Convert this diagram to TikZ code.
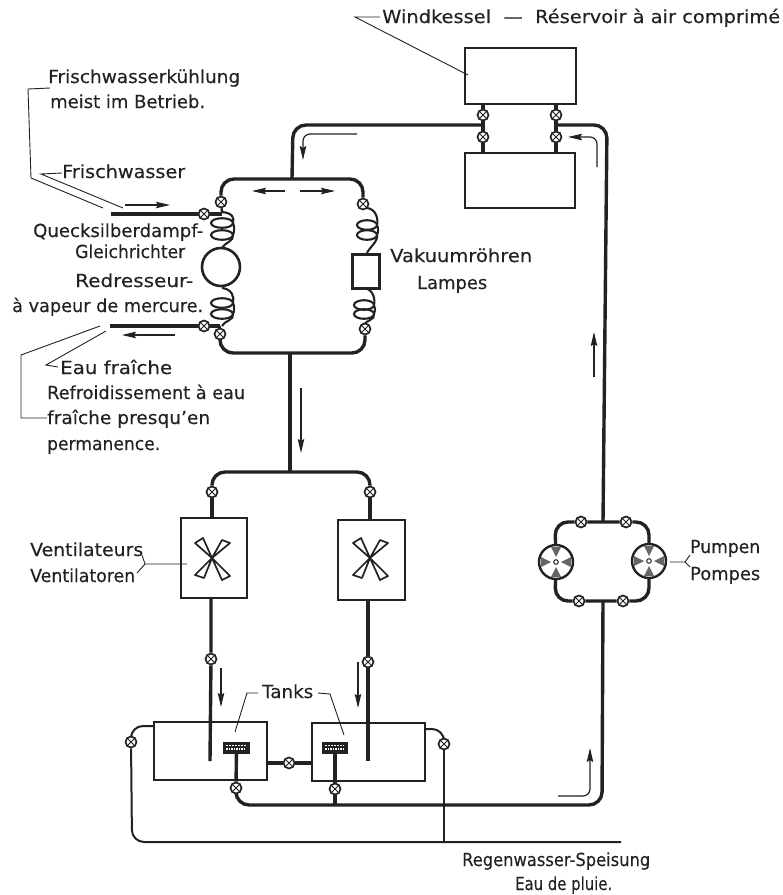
\documentclass[tikz,border=0pt]{standalone}
\usepackage{fontspec}
\usepackage{graphicx}
\setmainfont{DejaVu Sans}[FakeBold=0.3]
\usetikzlibrary{arrows.meta}
\pgfdeclarelayer{back}
\pgfsetlayers{back,main}
\definecolor{ink}{HTML}{222222}
\tikzset{
  pipe/.style={draw=ink,line width=3.4pt,rounded corners=13pt},
  wire/.style={draw=ink,line width=2pt,rounded corners=12pt},
  lead/.style={draw=ink,line width=.9pt},
  flow/.style={draw=ink,line width=1.2pt,rounded corners=7pt,-{Stealth[length=14pt,width=6.5pt,inset=2pt]}},
  lab/.style={anchor=base west,inner sep=0pt,text=ink,font=\fontsize{18}{20}\selectfont},
  box/.style={draw=ink,line width=2.2pt,inner sep=0pt},
  valve/.style={circle,draw=ink,line width=1.7pt,fill=white,minimum size=11pt,inner sep=0pt,
    path picture={\draw[ink,line width=.9pt]
      (path picture bounding box.north west)--(path picture bounding box.south east)
      (path picture bounding box.north east)--(path picture bounding box.south west);}},
  pumpc/.style={circle,draw=ink,line width=2.4pt,fill=white,minimum size=34pt,inner sep=0pt},
  blade/.style={draw=ink,line width=1.7pt,fill=white,line join=round},
  coilline/.style={draw=ink,line width=2.1pt},
}
\newcommand\lbl[5]{\node[lab] (#1) at (#2,#3) {\resizebox{#4pt}{\height}{#5}};}
\newcommand\rectnode[5]{\node[box,minimum width=#4pt-#2pt,minimum height=#5pt-#3pt,anchor=north west] (#1) at (#2,#3) {};}
\newcommand\myvalve[3]{\node[valve] (#1) at (#2,#3) {};}
% coil: x centre, half width, y start, first loop y, second loop y, y end
\newcommand\mycoil[6]{%
  \draw[coilline] (#1,#4) ellipse ({#2} and 4.8);
  \draw[coilline] (#1,#5) ellipse ({#2} and 4.8);
  \draw[coilline] (#1,#3) .. controls (#1+#2-1,#3+1) and (#1+#2+1.5,#4-6) .. (#1+#2,#4)
     .. controls (#1+#2+1.5,#4+3) and (#1+#2+1.5,#5-3) .. (#1+#2,#5)
     .. controls (#1+#2+1.5,#5+6) and (#1+2,#6-5) .. (#1,#6);}
\newcommand\myfan[2]{\begin{scope}[shift={(#1,#2)}]
  \draw[blade] (0,0)--(-17,-15)--(-9,-20)--cycle;
  \draw[blade] (0,0)--(10,-18)--(18,-15)--cycle;
  \draw[blade] (0,0)--(10,22)--(18,18)--cycle;
  \draw[blade] (0,0)--(-17,17)--(-8,20)--cycle;
\end{scope}}
\newcommand\myblades[2]{\begin{scope}[shift={(#1,#2)}]
  \foreach \r in {0,90,180,270}{\fill[black!60,rotate=\r] (5,0)--(15,-5)--(15,5)--cycle;}
  \draw[ink,line width=1pt,fill=white] (0,0) circle (2.3);
\end{scope}}
\newcommand\mygauge[5]{\node[draw=ink,fill=ink,line width=1pt,minimum width=#4pt-#2pt,minimum height=#5pt-#3pt,inner sep=0pt,anchor=north west] (#1) at (#2,#3) {};
  \draw[white,line width=1.2pt,dash pattern=on 2pt off 1pt] (#2+3,#3+3.5)--(#4-3,#3+3.5);
  \draw[white,line width=1.2pt,dash pattern=on 1.5pt off 1pt] (#2+3,#3+7)--(#4-3,#3+7);}
\begin{document}
\begin{tikzpicture}[x=1pt,y=-1pt]
\useasboundingbox (0,0) rectangle (783,895);
% reservoirs
\rectnode{resA}{464}{47}{575}{103}
\rectnode{resB}{464}{152}{574}{207}
\myvalve{vA1}{483}{115}\myvalve{vA2}{483}{137}
\myvalve{vB1}{556}{115}\myvalve{vB2}{556}{137}
% pump group
\node[pumpc] (pL) at (556,562) {};
\node[pumpc] (pR) at (649,561) {};
\myvalve{vP1}{581}{522}\myvalve{vP2}{626}{522}
\myvalve{vP3}{579}{601}\myvalve{vP4}{623}{601}
\myblades{556}{562}\myblades{649}{561}
% cooling loop
\myvalve{vL1}{221}{202}\myvalve{vR1}{363}{204}
\myvalve{vL2}{220}{334}\myvalve{vR2}{365}{329}
\myvalve{vIn}{204}{214}\myvalve{vOut}{204}{326}
\node[circle,draw=ink,line width=2.6pt,fill=white,minimum size=38pt,inner sep=0pt] (merc) at (221,267) {};
\node[box,fill=white,line width=2.6pt,minimum width=27pt,minimum height=34pt,anchor=north west] (lamp) at (351,253) {};
% fans
\rectnode{fanL}{180}{517}{246}{597}
\rectnode{fanR}{337}{519}{404}{599}
\myfan{212}{558}\myfan{370}{558}
\myvalve{vF1}{212}{492}\myvalve{vF2}{370}{492}
\myvalve{vF3}{211}{659}\myvalve{vF4}{368}{662}
% tanks
\rectnode{tankL}{153}{721}{266}{779}
\rectnode{tankR}{311}{722}{424}{780}
\mygauge{gL}{223}{742}{249}{753}
\mygauge{gR}{322}{742}{347}{753}
\myvalve{vT}{289}{763}
\myvalve{vG1}{236}{788}\myvalve{vG2}{335}{789}
\myvalve{vO1}{131}{742}\myvalve{vO2}{444}{744}
% free ends
\coordinate (inS) at (111,214); \coordinate (outS) at (110,326);
\coordinate (rainE) at (621,842);
% --- pipes
\begin{pgfonlayer}{back}
\draw[pipe,rounded corners=0pt] (resA.south -| vA1) -- (vA1) -- (vA2) -- (resB.north -| vA2);
\draw[pipe,rounded corners=0pt] (resA.south -| vB1) -- (vB1) -- (vB2) -- (resB.north -| vB2);
\draw[pipe] (483,125) -- (293,125) -- (292,179);
\draw[pipe] (556,125) -- (607,125) -- (603,522);
\draw[pipe] (pL) -- (555,522) -- (vP1) -- (vP2) -- (649,522) -- (pR);
\draw[pipe] (pL) -- (555,601) -- (vP3) -- (vP4) -- (649,601) -- (pR);
\draw[pipe] (603,601) -- (602,805) -- (236,805) -- (vG1);
\draw[pipe,rounded corners=0pt] (inS) -- (vIn) -- (222,214);
\draw[pipe,rounded corners=0pt] (outS) -- (vOut) -- (220,326);
\draw[pipe] (vL1) -- (221,179) -- (363,179) -- (vR1);
\draw[pipe] (vL2) -- (220,353) -- (365,353) -- (vR2);
\draw[pipe,line width=2.4pt,rounded corners=0pt] (vL1) -- (222,212);
\draw[pipe,line width=2.4pt,rounded corners=0pt] (220,326) -- (vL2);
\draw[pipe,rounded corners=0pt] (290,353) -- (290,472);
\draw[pipe] (vF1) -- (212,472) -- (370,472) -- (vF2);
\draw[pipe,rounded corners=0pt] (vF1) -- (fanL.north -| vF1);
\draw[pipe,rounded corners=0pt] (vF2) -- (fanR.north -| vF2);
\draw[pipe,rounded corners=0pt] (fanL.south -| vF3) -- (vF3) -- (210,761);
\draw[pipe,rounded corners=0pt] (fanR.south -| vF4) -- (vF4) -- (368,761);
\draw[pipe,rounded corners=0pt] (gL) -- (vG1);
\draw[pipe,rounded corners=0pt] (gR) -- (vG2) -- (335,805);
\draw[pipe,rounded corners=0pt] (tankL.east |- vT) -- (vT) -- (tankR.west |- vT);
\draw[wire] (153,726) -- (131,726) -- (vO1);
\draw[wire] (vO1) -- (132,842) -- (rainE);
\draw[wire] (424,729) -- (444,729) -- (vO2);
\draw[wire,rounded corners=0pt,line width=1.6pt] (vO2) -- (444,842);
\mycoil{222}{11}{212}{223}{235}{248}
\mycoil{222}{11}{288}{303}{314}{326}
\mycoil{367}{10}{208}{225}{235}{253}
\mycoil{364}{10}{288}{305}{314}{325}
\draw[coilline] (vR1)--(367,208);
\draw[coilline] (364,325)--(vR2);
\end{pgfonlayer}
% --- flow arrows
\coordinate (f1) at (125,205); \coordinate (f1e) at (170,205);
\draw[flow] (f1) -- (f1e);
\draw[flow] (175,335) -- (122,335);
\draw[flow] (285,191) -- (252,191);
\draw[flow] (300,191) -- (335,191);
\draw[flow] (357,134) -- (303,134) -- (303,160);
\draw[flow] (597,167) -- (597,137) -- (568,137);
\draw[flow] (301,388) -- (301,453);
\draw[flow] (594,377) -- (594,332);
\draw[flow] (558,796) -- (590,796) -- (590,748);
\draw[flow] (221,668) -- (221,707);
\draw[flow] (358,662) -- (358,708);
% --- leaders
\draw[lead] (50,88) -- (28,89) -- (31,178) -- (103,208);
\draw[lead] (62,173) -- (41,174) -- (123,208);
\draw[lead] (100,326) -- (21,355) -- (21,418) -- (47,418);
\draw[lead] (106,331) -- (46,365) -- (58,367);
\draw[lead] (380,17) -- (355,17) -- (468,75);
\draw[lead] (258,693) -- (247,693) -- (235,732);
\draw[lead] (318,693) -- (330,694) -- (344,735);
\draw[lead] (187,564) -- (145,564) -- (142,555) (145,564) -- (137,573);
\draw[lead] (670,562) -- (685,562) -- (690,555) (685,562) -- (690,567);
% --- labels
\lbl{t1}{48}{83}{192}{Frischwasserkühlung}
\lbl{t2}{50}{108}{155}{meist im Betrieb.}
\lbl{t3}{62}{178}{123}{Frischwasser}
\lbl{t4}{33}{237}{170}{Quecksilberdampf-}
\lbl{t5}{75}{258}{110}{Gleichrichter}
\lbl{t6}{75}{287}{118}{Redresseur-}
\lbl{t7}{12}{312}{191}{à vapeur de mercure.}
\lbl{t8}{60}{374}{112}{Eau fraîche}
\lbl{t9}{47}{399}{198}{Refroidissement à eau}
\lbl{t10}{47}{424}{163}{fraîche presqu'en}
\lbl{t11}{47}{450}{113}{permanence.}
\lbl{t12}{390}{262}{142}{Vakuumröhren}
\lbl{t13}{417}{289}{70}{Lampes}
\lbl{t14}{382}{23}{398}{Windkessel \ — \ Réservoir à air comprimé}
\lbl{t15}{30}{556}{113}{Ventilateurs}
\lbl{t16}{30}{582}{105}{Ventilatoren}
\lbl{t17}{690}{553}{70}{Pumpen}
\lbl{t18}{690}{580}{70}{Pompes}
\lbl{t19}{262}{698}{51}{Tanks}
\lbl{t20}{462}{866}{188}{Regenwasser-Speisung}
\lbl{t21}{515}{890}{97}{Eau de pluie.}
\end{tikzpicture}
\end{document}
